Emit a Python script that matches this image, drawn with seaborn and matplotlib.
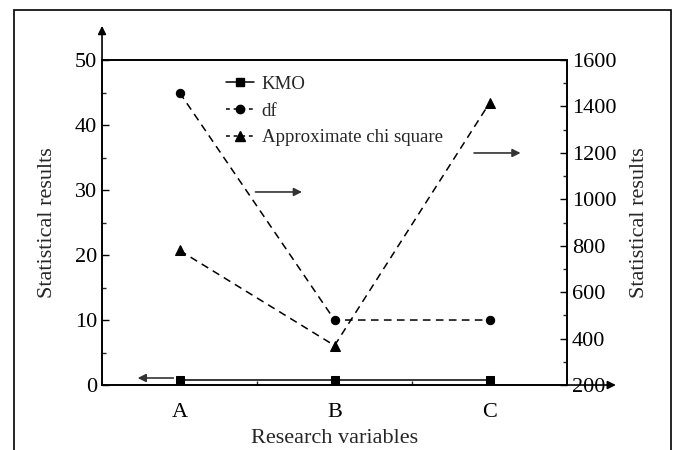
import matplotlib
matplotlib.use("Agg")
import matplotlib.pyplot as plt
from matplotlib.patches import Rectangle
from matplotlib.ticker import MultipleLocator, FixedLocator
from matplotlib.lines import Line2D
import seaborn as sns
import pandas as pd

categories = ["A", "B", "C"]
kmo = [0.8, 0.8, 0.8]
df_vals = [45, 10, 10]
chi_square = [780, 370, 1415]

sns.set_style("ticks")
plt.rcParams["font.family"] = ["Liberation Serif", "DejaVu Serif"]
plt.rcParams["font.size"] = 16

fig = plt.figure(figsize=(6.73, 4.5), dpi=100)
ax = fig.add_axes([0.1516, 0.1444, 0.691, 0.7222])
ax2 = ax.twinx()

data = pd.DataFrame({"var": categories, "KMO": kmo, "df": df_vals, "chi": chi_square})

dash = (0, (5, 3.5))
sns.lineplot(data=data, x="var", y="KMO", ax=ax, color="black", lw=1.1,
             marker="s", markersize=6, markeredgecolor="black", sort=False)
sns.lineplot(data=data, x="var", y="df", ax=ax, color="black", lw=1.1,
             marker="o", markersize=6, markeredgecolor="black", sort=False,
             linestyle=dash)
sns.lineplot(data=data, x="var", y="chi", ax=ax2, color="black", lw=1.1,
             marker="^", markersize=7, markeredgecolor="black", sort=False,
             linestyle=dash)

ax.set_xlim(-0.5, 2.5)
ax.set_ylim(0, 50)
ax2.set_ylim(200, 1600)

ax.yaxis.set_major_locator(MultipleLocator(10))
ax.yaxis.set_minor_locator(MultipleLocator(5))
ax2.yaxis.set_major_locator(MultipleLocator(200))
ax2.yaxis.set_minor_locator(MultipleLocator(100))
ax.xaxis.set_minor_locator(FixedLocator([0.5, 1.5]))

for a in (ax, ax2):
    a.tick_params(which="major", direction="in", length=5, width=1, labelsize=16, colors="black")
    a.tick_params(which="minor", direction="in", length=3, width=1)
    for s in a.spines.values():
        s.set_linewidth(1.2)
        s.set_color("black")
ax.tick_params(axis="x", which="major", length=0, pad=13)
ax.tick_params(axis="y", which="both", right=False)
ax2.tick_params(axis="y", which="both", left=False)

ax.set_xlabel("Research variables", fontsize=16, labelpad=5)
ax.set_ylabel("Statistical results", fontsize=16, labelpad=13)
ax2.set_ylabel("Statistical results", fontsize=16, labelpad=10)

# axis arrows
ax.annotate("", xy=(0, 1.105), xytext=(0, 0.99), xycoords="axes fraction",
            arrowprops=dict(arrowstyle="-|>", color="black", lw=1.2, mutation_scale=12,
                            shrinkA=0, shrinkB=0), annotation_clip=False)
ax.annotate("", xy=(1.105, 0), xytext=(0.99, 0), xycoords="axes fraction",
            arrowprops=dict(arrowstyle="-|>", color="black", lw=1.2, mutation_scale=12,
                            shrinkA=0, shrinkB=0), annotation_clip=False)

# series-to-axis arrows
arrow_kw = dict(arrowstyle="-|>", color="#333333", lw=1.2, mutation_scale=12, shrinkA=0, shrinkB=0)
ax.annotate("", xy=(-0.27, 1.08), xytext=(-0.04, 1.08), arrowprops=arrow_kw)
ax.annotate("", xy=(0.79, 29.7), xytext=(0.49, 29.7), arrowprops=arrow_kw)
ax.annotate("", xy=(2.2, 35.7), xytext=(1.9, 35.7), arrowprops=arrow_kw)

handles = [
    Line2D([], [], color="black", lw=1.1, marker="s", markersize=6),
    Line2D([], [], color="black", lw=1.1, marker="o", markersize=6, linestyle=(0, (2.5, 2.5))),
    Line2D([], [], color="black", lw=1.1, marker="^", markersize=7, linestyle=(0, (2.5, 2.5))),
]
leg = ax.legend(handles, ["KMO", "df", "Approximate chi square"], loc="upper left",
                bbox_to_anchor=(0.25, 0.975), frameon=False, fontsize=13.6,
                handlelength=1.5, handletextpad=0.4, labelspacing=0.5, borderaxespad=0)
if ax2.get_legend() is not None:
    ax2.get_legend().remove()

fig.patches.append(Rectangle((14 / 673, -0.1), (671 - 14) / 673, 1 - 10 / 450 + 0.1,
                             transform=fig.transFigure, fill=False, edgecolor="black", lw=1.2))

fig.savefig("out.png", dpi=100)
